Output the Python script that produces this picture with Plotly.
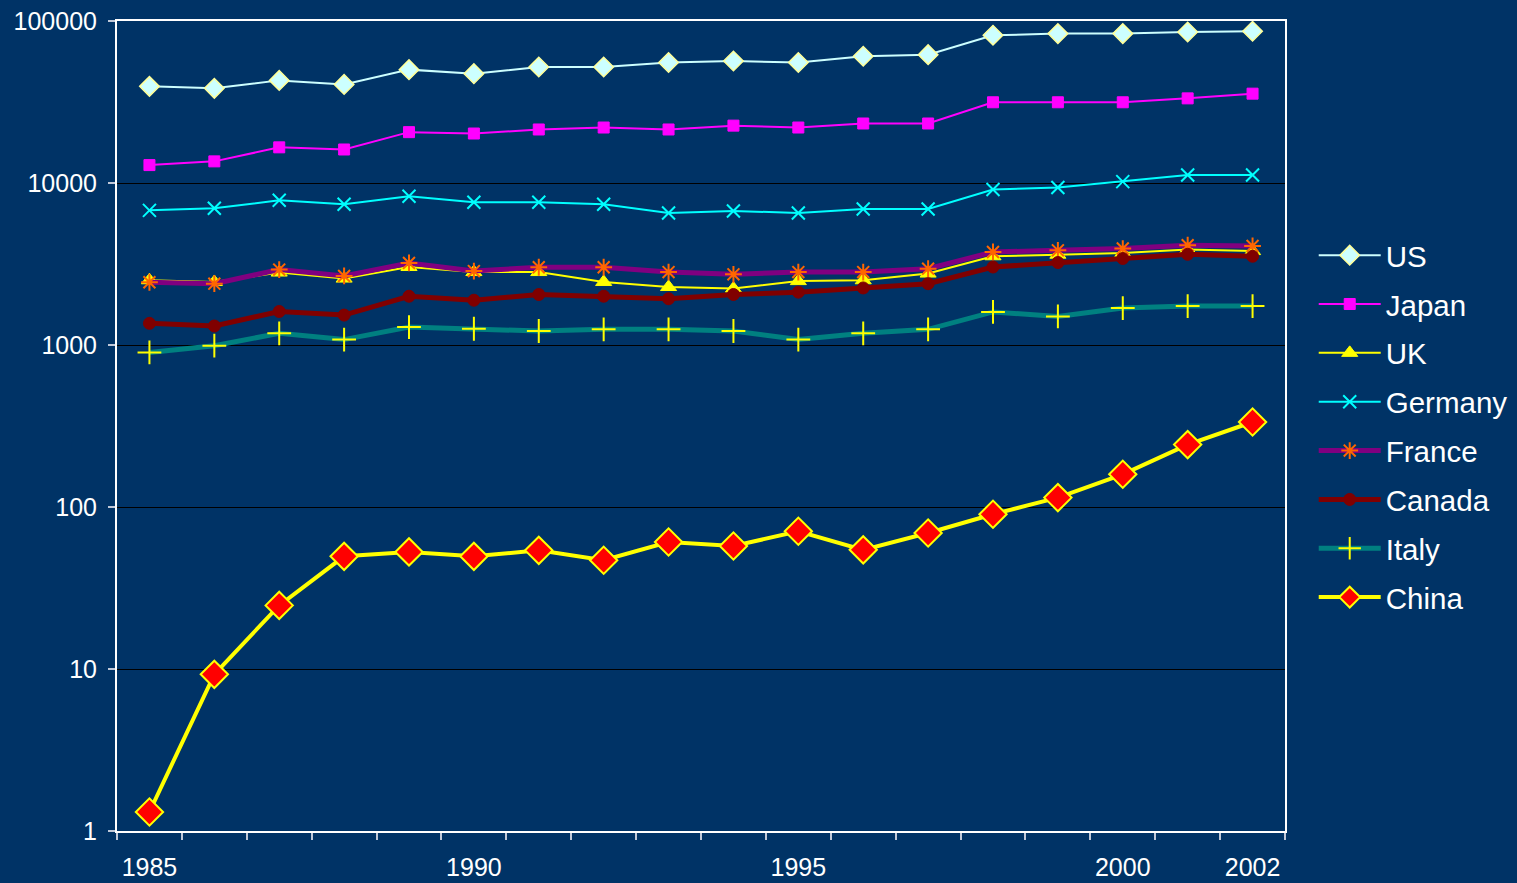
import plotly.graph_objects as go

# Years on the category axis
years = list(range(1985, 2003))

# Series values (log scale)
us = [39500, 38400, 43000, 40600, 50100, 47300, 52000, 52000, 55400, 56600,
      55400, 60600, 62000, 81600, 83600, 83600, 85500, 86400]
japan = [12900, 13600, 16600, 16100, 20600, 20200, 21400, 22000, 21400, 22600,
         22000, 23300, 23300, 31500, 31500, 31500, 33300, 35600]
uk = [2510, 2450, 2800, 2570, 3030, 2820, 2820, 2450, 2280, 2230,
      2480, 2510, 2760, 3530, 3610, 3700, 3880, 3800]
germany = [6780, 6980, 7820, 7390, 8280, 7600, 7600, 7390, 6530, 6720,
           6530, 6910, 6910, 9110, 9370, 10200, 11200, 11200]
france = [2440, 2390, 2920, 2670, 3210, 2860, 3020, 3020, 2820, 2730,
          2820, 2820, 2960, 3750, 3840, 3940, 4130, 4090]
canada = [1360, 1310, 1610, 1530, 2000, 1890, 2050, 2000, 1930, 2050,
          2120, 2250, 2390, 3030, 3230, 3420, 3630, 3530]
italy = [900, 990, 1180, 1080, 1290, 1260, 1220, 1250, 1250, 1220,
         1080, 1180, 1250, 1600, 1500, 1690, 1740, 1740]
china = [1.31, 9.27, 24.7, 49.6, 52.8, 49.6, 54.0, 46.9, 60.8, 57.4,
         70.8, 54.4, 69.1, 90.2, 114.3, 159.2, 242.8, 334.7]

x_labels = [1985, 1990, 1995, 2000, 2002]
y_ticks = [1, 10, 100, 1000, 10000, 100000]

BG = "#003366"

series = [
    ("US", us, dict(color="#CCFFFF", width=2),
     dict(symbol="diamond", size=15, color="#CCFFFF", line=dict(color="#FFFF99", width=1.5))),
    ("Japan", japan, dict(color="#FF00FF", width=2),
     dict(symbol="square", size=11, color="#FF00FF", line=dict(color="#FF00FF", width=1))),
    ("UK", uk, dict(color="#FFFF00", width=2),
     dict(symbol="triangle-up", size=14, color="#FFFF00", line=dict(color="#FFFF00", width=1))),
    ("Germany", germany, dict(color="#00FFFF", width=2),
     dict(symbol="x-thin", size=13, color="#00FFFF", line=dict(color="#00FFFF", width=2))),
    ("France", france, dict(color="#800080", width=5),
     dict(symbol="asterisk", size=14, color="#FF6600", line=dict(color="#FF6600", width=2))),
    ("Canada", canada, dict(color="#800000", width=5),
     dict(symbol="circle", size=12, color="#800000", line=dict(color="#800000", width=1))),
    ("Italy", italy, dict(color="#008080", width=5),
     dict(symbol="cross-thin", size=17, color="#FFFF00", line=dict(color="#FFFF00", width=2))),
    ("China", china, dict(color="#FFFF00", width=4),
     dict(symbol="diamond", size=21, color="#FF0000", line=dict(color="#FFFF00", width=2))),
]

fig = go.Figure()
for name, vals, line, marker in series:
    fig.add_trace(go.Scatter(
        x=years, y=vals, name=name, mode="lines+markers",
        line=line, marker=marker, legendgroup=name,
    ))

fig.update_layout(
    width=1517, height=883,
    paper_bgcolor=BG, plot_bgcolor=BG,
    margin=dict(l=117, r=232, t=21, b=52),
    font=dict(family="Liberation Sans, Arial, sans-serif", color="white"),
    showlegend=True,
    legend=dict(
        xref="container", yref="container",
        x=0.866, xanchor="left", y=0.517, yanchor="middle",
        bgcolor="rgba(0,0,0,0)", font=dict(size=29.5, color="white"),
        tracegroupgap=7.5, itemwidth=62,
    ),
    xaxis=dict(
        range=[1984.5, 2002.5], tickmode="array", tickvals=x_labels,
        ticktext=[str(v) for v in x_labels], ticks="",
        showgrid=False, zeroline=False, automargin=False,
        showline=True, linecolor="white", linewidth=2, mirror=True,
        tickfont=dict(size=25, color="white"), ticklabelstandoff=13,
        minor=dict(tickvals=[y - 0.5 for y in years] + [2002.5],
                   ticks="outside", ticklen=7, tickwidth=1.5,
                   tickcolor="#C0C8D8", showgrid=False),
    ),
    yaxis=dict(
        type="log", range=[0, 5], tickmode="array", tickvals=y_ticks,
        ticktext=[str(v) for v in y_ticks], automargin=False,
        ticks="outside", ticklen=7, tickwidth=1.5, tickcolor="#C0C8D8",
        showgrid=True, gridcolor="black", gridwidth=1, zeroline=False,
        showline=True, linecolor="white", linewidth=2, mirror=True,
        tickfont=dict(size=25, color="white"), ticklabelstandoff=6,
    ),
)

fig.write_html("out.html")
